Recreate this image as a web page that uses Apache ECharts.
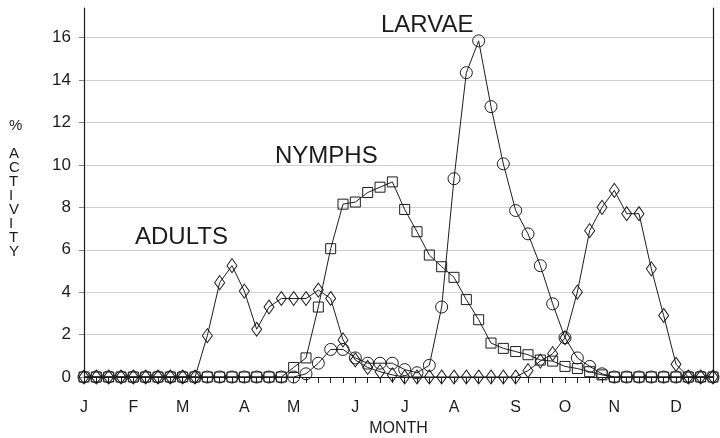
<!DOCTYPE html>
<html>
<head>
<meta charset="utf-8">
<script src="https://cdn.jsdelivr.net/npm/echarts@6/dist/echarts.min.js"></script>
<style>
  html, body { margin: 0; padding: 0; background: #fff; }
  #chart { width: 720px; height: 438px; }
</style>
</head>
<body>
<div id="chart"></div>
<script>
// weekly samples, Jan week 1 .. Dec week 4
const monthLetters = ["J", "F", "M", "A", "M", "J", "J", "A", "S", "O", "N", "D"];
const monthStartWeek = [0, 4, 8, 13, 17, 22, 26, 30, 35, 39, 43, 48];

const adults = [
  0, 0, 0, 0, 0, 0, 0, 0, 0, 0,
  1.95, 4.45, 5.25, 4.05, 2.25, 3.3, 3.7, 3.7, 3.7, 4.1, 3.7, 1.75, 0.8, 0.45, 0.25, 0.1,
  0, 0, 0, 0, 0, 0, 0, 0, 0, 0,
  0.3, 0.75, 1.1, 1.85, 4.0, 6.9, 8.0, 8.8, 7.7, 7.7, 5.1, 2.9, 0.6, 0, 0, 0
];
const nymphs = [
  0, 0, 0, 0, 0, 0, 0, 0, 0, 0, 0, 0, 0, 0, 0, 0, 0,
  0.45, 0.9, 3.3, 6.05, 8.15, 8.25, 8.7, 8.95, 9.2, 7.9, 6.85, 5.75, 5.2, 4.7, 3.65,
  2.7, 1.6, 1.35, 1.2, 1.05, 0.8, 0.75, 0.5, 0.4, 0.25, 0.1,
  0, 0, 0, 0, 0, 0, 0, 0, 0
];
const larvae = [
  0, 0, 0, 0, 0, 0, 0, 0, 0, 0, 0, 0, 0, 0, 0, 0, 0, 0,
  0.15, 0.65, 1.3, 1.3, 0.9, 0.65, 0.65, 0.65, 0.35, 0.2, 0.55, 3.3, 9.35, 14.35,
  15.85, 12.75, 10.05, 7.85, 6.75, 5.25, 3.45, 1.85, 0.9, 0.5, 0.15,
  0, 0, 0, 0, 0, 0, 0, 0, 0
];
const yTicks = [0, 2, 4, 6, 8, 10, 12, 14, 16];

// category labels: month letter at the first week of each month
const weeks = adults.map((v, i) => {
  const m = monthStartWeek.indexOf(i);
  return m >= 0 ? monthLetters[m] : "";
});

const ink = "#1c1c1c";
const font = "'Liberation Sans', Arial, sans-serif";

function lineSeries(name, data, symbol, size) {
  return {
    name: name,
    type: "line",
    data: data,
    symbol: symbol,
    symbolSize: size,
    showAllSymbol: true,
    lineStyle: { color: ink, width: 1 },
    itemStyle: { color: "rgba(255,255,255,0)", borderColor: ink, borderWidth: 1 },
    emphasis: { disabled: true },
    z: 3,
  };
}

const chart = echarts.init(document.getElementById("chart"));
chart.setOption({
  animation: false,
  grid: { left: 84, right: 7, top: 8, bottom: 61, outerBoundsMode: "none" },
  xAxis: {
    type: "category",
    data: weeks,
    boundaryGap: false,
    name: "MONTH",
    nameLocation: "middle",
    nameGap: 40,
    nameTextStyle: { color: ink, fontSize: 16, fontFamily: font },
    axisLine: { lineStyle: { color: ink, width: 1.2 } },
    axisTick: { show: true, interval: 0, length: 6, lineStyle: { color: ink } },
    axisLabel: {
      interval: 0,
      margin: 23,
      color: ink,
      fontSize: 16,
      fontFamily: font,
    },
    splitLine: { show: false },
  },
  yAxis: [
    {
      type: "value",
      min: 0,
      max: 17.4,
      interval: 2,
      axisLine: { show: true, lineStyle: { color: ink, width: 1.2 } },
      axisTick: { show: true, length: 5, customValues: yTicks, lineStyle: { color: "#888" } },
      axisLabel: {
        margin: 13,
        color: ink,
        fontSize: 17,
        fontFamily: font,
        customValues: yTicks,
      },
      splitLine: {
        show: true,
        showMinLine: false,
        lineStyle: { color: "#cfcfcf", width: 1 },
      },
    },
    {
      type: "value",
      position: "right",
      min: 0,
      max: 17.4,
      axisLine: { show: true, lineStyle: { color: ink, width: 1.2 } },
      axisTick: { show: false },
      axisLabel: { show: false },
      splitLine: { show: false },
    },
  ],
  series: [
    lineSeries("ADULTS", adults, "diamond", [10, 14]),
    lineSeries("NYMPHS", nymphs, "rect", 10),
    lineSeries("LARVAE", larvae, "circle", 12),
  ],
  graphic: [
    { type: "text", left: 381, top: 13, style: { text: "LARVAE", fill: ink, fontSize: 24, fontFamily: font } },
    { type: "text", left: 275, top: 144, style: { text: "NYMPHS", fill: ink, fontSize: 24, fontFamily: font } },
    { type: "text", left: 135, top: 225, style: { text: "ADULTS", fill: ink, fontSize: 24, fontFamily: font } },
    {
      type: "text",
      left: 9,
      top: 118,
      style: {
        text: "%\n\nA\nC\nT\nI\nV\nI\nT\nY",
        fill: ink,
        fontSize: 15,
        lineHeight: 14,
        align: "center",
        fontFamily: font,
      },
    },
  ],
});
</script>
</body>
</html>
